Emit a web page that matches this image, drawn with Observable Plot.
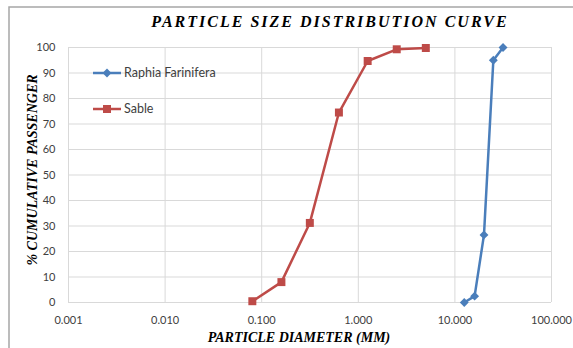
<!DOCTYPE html>
<html>
<head>
<meta charset="utf-8">
<script src="https://cdn.jsdelivr.net/npm/d3@7"></script>
<script src="https://cdn.jsdelivr.net/npm/@observablehq/plot@0.6"></script>
<style>
  html, body { margin: 0; padding: 0; background: #fff; }
  #chart { position: relative; width: 573px; height: 348px; overflow: hidden; }
</style>
</head>
<body>
<div id="chart"></div>
<script>
// Data
const titleText = "PARTICLE SIZE DISTRIBUTION CURVE";
const xLabel = "PARTICLE DIAMETER (MM)";
const yLabel = "% CUMULATIVE PASSENGER";

const seriesNames = ["Raphia Farinifera", "Sable"];
const raphiaDiameter = [12.5, 16, 20, 25, 31.5];
const raphiaPassing  = [0, 2.5, 26.5, 95, 100];
const sableDiameter  = [0.08, 0.16, 0.315, 0.63, 1.25, 2.5, 5];
const sablePassing   = [0.5, 8, 31.2, 74.5, 94.7, 99.3, 99.8];

const xTicks = [0.001, 0.01, 0.1, 1, 10, 100];
const yTicks = [0, 10, 20, 30, 40, 50, 60, 70, 80, 90, 100];

const colors = ["#4A7EBB", "#BE4B48"];

const raphia = raphiaDiameter.map((d, i) => ({d, p: raphiaPassing[i], s: seriesNames[0]}));
const sable = sableDiameter.map((d, i) => ({d, p: sablePassing[i], s: seriesNames[1]}));

const W = 573, H = 348;
const tickFont = "Lato, 'Open Sans', sans-serif";
const serif = "'Liberation Serif', 'DejaVu Serif', serif";

const plot = Plot.plot({
  width: W,
  height: H,
  marginLeft: 68,
  marginRight: 22,
  marginTop: 47,
  marginBottom: 46,
  style: {background: "transparent", fontFamily: tickFont, fontSize: "11px", color: "#404040"},
  x: {type: "log", domain: [0.001, 100], label: null},
  y: {domain: [0, 100], label: null},
  marks: [
    Plot.gridX(xTicks, {stroke: "#d9d9d9", strokeOpacity: 1, strokeWidth: 1}),
    Plot.gridY(yTicks, {stroke: "#d9d9d9", strokeOpacity: 1, strokeWidth: 1}),
    Plot.axisX(xTicks, {tickSize: 0, tickPadding: 14, tickFormat: d3.format(".3f"), fill: "#404040", fontSize: 11}),
    Plot.axisY(yTicks, {tickSize: 0, tickPadding: 13, fill: "#404040", fontSize: 11}),
    Plot.line(sable, {x: "d", y: "p", stroke: colors[1], strokeWidth: 2.5}),
    Plot.dot(sable, {x: "d", y: "p", symbol: "square", r: 4.5, fill: colors[1], stroke: null}),
    Plot.line(raphia, {x: "d", y: "p", stroke: colors[0], strokeWidth: 2.5}),
    Plot.dot(raphia, {x: "d", y: "p", symbol: "diamond2", r: 4, fill: colors[0], stroke: null})
  ]
});

document.getElementById("chart").appendChild(plot);
const svg = d3.select(plot);

// outer chart frame
svg.insert("rect", ":first-child")
  .attr("x", 9).attr("y", 7).attr("width", 700).attr("height", 500)
  .attr("fill", "none").attr("stroke", "#a6a6a6").attr("stroke-width", 1.5);

// title
svg.append("text")
  .attr("x", 330).attr("y", 27)
  .attr("text-anchor", "middle")
  .attr("font-family", serif).attr("font-weight", "bold").attr("font-style", "italic")
  .attr("font-size", 16).attr("letter-spacing", "2px").attr("fill", "#000")
  .text(titleText);

// x axis title
svg.append("text")
  .attr("x", 299).attr("y", 342)
  .attr("text-anchor", "middle")
  .attr("font-family", serif).attr("font-weight", "bold").attr("font-style", "italic")
  .attr("font-size", 14).attr("fill", "#000")
  .text(xLabel);

// y axis title
svg.append("text")
  .attr("transform", "translate(37,170) rotate(-90)")
  .attr("text-anchor", "middle")
  .attr("font-family", serif).attr("font-weight", "bold").attr("font-style", "italic")
  .attr("font-size", 14).attr("fill", "#000")
  .text(yLabel);

// legend
const legendY = [73, 109];
const symbols = [d3.symbolDiamond2, d3.symbolSquare];
const sizes = [Math.PI * 16, Math.PI * 20.25];
seriesNames.forEach((name, i) => {
  const g = svg.append("g").attr("transform", `translate(0,${legendY[i]})`);
  g.append("line").attr("x1", 93).attr("x2", 121).attr("y1", 0).attr("y2", 0)
    .attr("stroke", colors[i]).attr("stroke-width", 2.5);
  g.append("path").attr("transform", "translate(107,0)")
    .attr("d", d3.symbol(symbols[i], sizes[i])()).attr("fill", colors[i]);
  g.append("text").attr("x", 124).attr("y", 0).attr("dy", "0.35em")
    .attr("text-anchor", "start")
    .attr("font-family", tickFont).attr("font-size", 12.5).attr("fill", "#404040")
    .text(name);
});
</script>
</body>
</html>
